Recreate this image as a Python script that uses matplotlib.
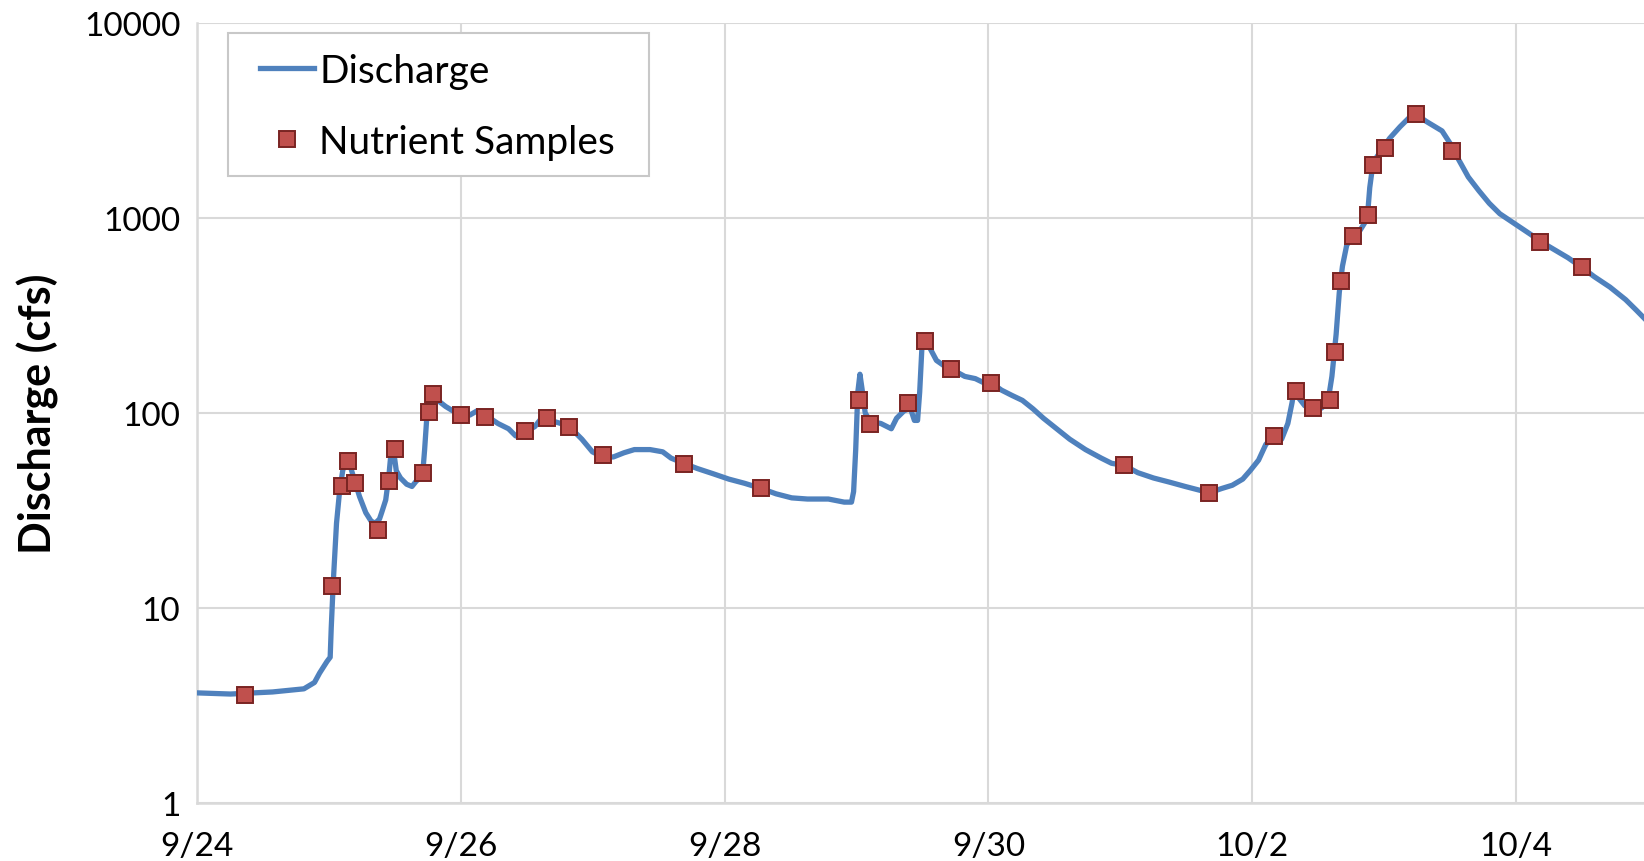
import numpy as np
import matplotlib
matplotlib.use("Agg")
import matplotlib.pyplot as plt
from matplotlib.patches import Rectangle

# ----------- Data (days since 9/24 00:00) -----------
q_days = [0, 0.254, 0.573, 0.811, 0.891, 0.930, 0.986, 1.010, 1.018, 1.034,
          1.058, 1.081, 1.105, 1.129, 1.161, 1.201, 1.233, 1.280, 1.320, 1.352,
          1.384, 1.400, 1.431, 1.455, 1.471, 1.495, 1.511, 1.543, 1.590, 1.630,
          1.662, 1.710, 1.726, 1.742, 1.750, 1.773, 1.805, 1.885, 1.940, 2.004,
          2.068, 2.123, 2.187, 2.282, 2.362, 2.417, 2.489, 2.561, 2.624, 2.680,
          2.759, 2.839, 2.918, 2.998, 3.077, 3.157, 3.237, 3.316, 3.435, 3.531,
          3.594, 3.690, 3.793, 3.913, 4.032, 4.151, 4.278, 4.390, 4.509, 4.628,
          4.787, 4.907, 4.962, 4.978, 4.994, 5.010, 5.026, 5.042, 5.066, 5.105,
          5.185, 5.264, 5.304, 5.360, 5.408, 5.439, 5.463, 5.479, 5.495, 5.511,
          5.543, 5.606, 5.662, 5.718, 5.821, 5.901, 5.964, 6.020, 6.099, 6.179,
          6.258, 6.338, 6.417, 6.497, 6.616, 6.736, 6.855, 6.934, 7.030, 7.133,
          7.252, 7.372, 7.491, 7.610, 7.674, 7.769, 7.849, 7.928, 7.984, 8.048,
          8.103, 8.167, 8.223, 8.270, 8.302, 8.318, 8.350, 8.398, 8.461, 8.525,
          8.573, 8.604, 8.636, 8.660, 8.684, 8.716, 8.763, 8.811, 8.851, 8.875,
          8.891, 8.907, 8.938, 8.986, 9.042, 9.121, 9.201, 9.240, 9.320, 9.439,
          9.511, 9.559, 9.638, 9.718, 9.797, 9.877, 9.996, 10.115, 10.179, 10.274,
          10.394, 10.497, 10.593, 10.712, 10.831, 10.911, 10.974]
q_cfs = [3.67, 3.62, 3.71, 3.85, 4.15, 4.64, 5.32, 5.59, 7.9, 13.8,
         27.2, 39.5, 50.6, 57.3, 53.8, 43.6, 37.2, 30.8, 27.9, 27.2,
         28.6, 30.8, 35.8, 47.6, 62.5, 60.9, 50.6, 46.4, 43.1, 42.0,
         44.7, 47.6, 64.9, 94.0, 113, 131, 119, 108, 102.5, 97.5,
         97.5, 102.5, 97.5, 88.3, 83.0, 76.2, 80.0, 85.1, 96.3, 91.6,
         88.3, 83.0, 73.4, 63.2, 59.5, 59.5, 62.5, 64.9, 64.9, 63.2,
         58.7, 55.2, 51.9, 48.8, 45.8, 43.6, 41.0, 38.5, 36.7, 36.2,
         36.2, 34.9, 34.9, 39.5, 64.9, 128, 158, 133, 100, 90.6,
         88.3, 83.0, 94, 102.5, 106, 91.6, 91.6, 128, 210, 247,
         224, 186, 175, 168, 154, 150, 143, 143, 131, 123,
         116, 105, 94, 85.1, 73.4, 64.9, 58.7, 55.2, 53.8, 49.4,
         46.4, 44.2, 42.0, 40.0, 39.0, 41.0, 42.6, 45.8, 50.6, 57.3,
         69.0, 76.2, 73.4, 88.3, 113, 133, 120, 109, 106, 106,
         113, 154, 253, 415, 566, 724, 811, 851, 940, 1051,
         1432, 1725, 2024, 2263, 2563, 2938, 3325, 3405, 3125, 2795,
         2350, 2024, 1622, 1380, 1189, 1051, 929, 820, 762, 698,
         625, 559, 500, 442, 381, 337, 305]

s_days = [0.366, 1.026, 1.097, 1.145, 1.200, 1.376, 1.455, 1.503, 1.710, 1.757,
          1.789, 2.004, 2.187, 2.489, 2.656, 2.823, 3.077, 3.690, 4.278, 5.018,
          5.105, 5.392, 5.519, 5.718, 6.020, 7.030, 7.674, 8.167, 8.334, 8.461,
          8.588, 8.628, 8.676, 8.763, 8.875, 8.915, 9.010, 9.240, 9.511, 10.180,
          10.497]
s_cfs = [3.6, 13, 42, 57, 44, 25, 45, 65, 49, 101,
         125, 97.5, 95, 81, 94, 85, 61, 55, 41, 116,
         88, 112, 235, 168, 143, 54, 39, 76, 130, 106,
         116, 205, 475, 810, 1040, 1880, 2290, 3400, 2210, 752,
         559]

tick_days = [0, 2, 4, 6, 8, 10]
tick_labels = ["9/24", "9/26", "9/28", "9/30", "10/2", "10/4"]

# ----------- Plot -----------
plt.rcParams['font.family'] = ['Lato', 'DejaVu Sans']

fig = plt.figure(figsize=(16.44, 8.62), dpi=100)
ax = fig.add_axes([0.1198, 0.0673, 0.8802, 0.9049])

ax.plot(q_days, q_cfs, color="#4F81BD", lw=3.8, label="Discharge", zorder=3)
ax.plot(s_days, s_cfs, ls="none", marker="s", ms=11, mfc="#C0504D",
        mec="#7A2422", mew=1.4, label="Nutrient Samples", zorder=4)

ax.set_yscale("log")
ax.set_ylim(1, 10000)
ax.set_xlim(0, 10.97)
ax.set_yticks([1, 10, 100, 1000, 10000])
ax.set_yticklabels(["1", "10", "100", "1000", "10000"])
ax.minorticks_off()
ax.set_xticks(tick_days)
ax.set_xticklabels(tick_labels)
ax.tick_params(length=0, labelsize=24, pad=12)
ax.tick_params(axis="x", pad=20)

ax.grid(True, color="#D9D9D9", lw=1.5)
ax.set_axisbelow(True)
for side in ["top", "right"]:
    ax.spines[side].set_visible(False)
for side in ["left", "bottom"]:
    ax.spines[side].set_color("#D9D9D9")
    ax.spines[side].set_linewidth(1.8)

ax.set_ylabel("Discharge (cfs)", fontsize=31, fontweight="bold", labelpad=18)

# legend box drawn separately so the padding can differ horizontally/vertically
ax.add_patch(Rectangle((0.0218, 0.8036), 0.2906, 0.1841, transform=ax.transAxes,
                       facecolor="white", edgecolor="#C8C8C8", lw=1.5, zorder=5))
leg = ax.legend(loc="upper left", bbox_to_anchor=(0.0435, 0.962), borderaxespad=0,
                fontsize=28, frameon=False, handlelength=1.4,
                handletextpad=0.13, labelspacing=0.9, borderpad=0)
leg.set_zorder(6)

fig.savefig("out.png", dpi=100)
